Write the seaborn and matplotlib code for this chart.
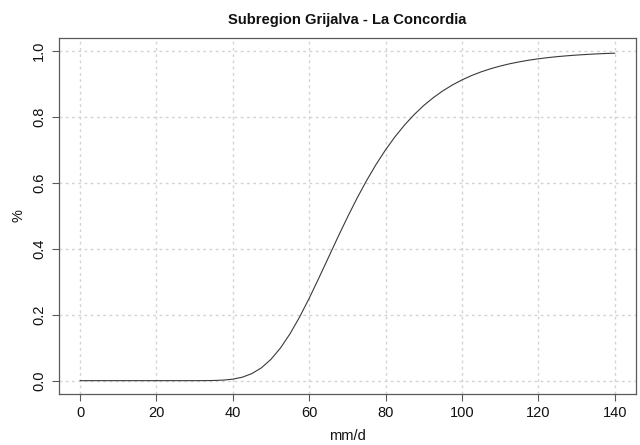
import matplotlib
matplotlib.use("Agg")
import matplotlib.pyplot as plt
import seaborn as sns
import pandas as pd

# Cumulative probability of daily rainfall (mm/d)
rain_mm = [0, 2.5, 5, 7.5, 10, 12.5, 15, 17.5, 20, 22.5, 25, 27.5, 30, 32.5,
           35, 37.5, 40, 42.5, 45, 47.5, 50, 52.5, 55, 57.5, 60, 62.5, 65, 67.5,
           70, 72.5, 75, 77.5, 80, 82.5, 85, 87.5, 90, 92.5, 95, 97.5, 100, 102.5,
           105, 107.5, 110, 112.5, 115, 117.5, 120, 122.5, 125, 127.5, 130, 132.5,
           135, 137.5, 140]
cum_prob = [0.0, 0.0, 0.0, 0.0, 0.0, 0.0, 0.0, 0.0, 0.0, 0.0, 0.0, 0.0, 0.0, 0.0001,
            0.0005, 0.0016, 0.0045, 0.0105, 0.0214, 0.0390, 0.0648, 0.0994, 0.1426,
            0.1934, 0.2500, 0.3106, 0.3729, 0.4352, 0.4956, 0.5532, 0.6068, 0.6561,
            0.7007, 0.7408, 0.7764, 0.8077, 0.8352, 0.8590, 0.8797, 0.8975, 0.9128,
            0.9260, 0.9372, 0.9467, 0.9548, 0.9618, 0.9676, 0.9727, 0.9769, 0.9805,
            0.9835, 0.9860, 0.9882, 0.9900, 0.9916, 0.9929, 0.9940]

x_ticks = [0, 20, 40, 60, 80, 100, 120, 140]
y_ticks = [0.0, 0.2, 0.4, 0.6, 0.8, 1.0]
y_tick_labels = ["0.0", "0.2", "0.4", "0.6", "0.8", "1.0"]

title = "Subregion Grijalva - La Concordia"
x_label = "mm/d"
y_label = "%"

sns.set_theme(style="white")
plt.rcParams["font.family"] = ["Liberation Sans", "DejaVu Sans"]

df = pd.DataFrame({"mm": rain_mm, "p": cum_prob})

fig = plt.figure(figsize=(6.4, 4.45), dpi=100)
ax = fig.add_axes([0.0916, 0.115, 0.9024, 0.7996])

box_col = "#5a5a5a"
grid_col = "#d3d3d3"

# dotted reference grid at the tick positions
for xv in x_ticks:
    ax.axvline(xv, color=grid_col, lw=1.0, ls=(0, (2, 2.5)), zorder=1)
for yv in y_ticks:
    ax.axhline(yv, color=grid_col, lw=1.0, ls=(0, (2, 2.5)), zorder=1)

sns.lineplot(data=df, x="mm", y="p", ax=ax, color="#3a3a3a", lw=0.8, zorder=3)

ax.set_xlim(-5.6, 145.6)
ax.set_ylim(-0.04, 1.04)
ax.set_xticks(x_ticks)
ax.set_xticklabels([str(v) for v in x_ticks], fontsize=10.5, color="#111111")
ax.set_yticks(y_ticks)
ax.set_yticklabels(y_tick_labels, fontsize=10.5, color="#111111",
                   rotation=90, va="center")
ax.tick_params(axis="both", direction="out", length=5, width=0.8,
               color=box_col, pad=4, left=True, bottom=True)

for sp in ax.spines.values():
    sp.set_color(box_col)
    sp.set_linewidth(0.9)
    sp.set_visible(True)

ax.set_xlabel(x_label, fontsize=10.5, color="#111111", labelpad=6)
ax.set_ylabel(y_label, fontsize=10.5, color="#111111", labelpad=5)
ax.set_title(title, fontsize=10.6, fontweight="bold", color="#111111", pad=10)

fig.savefig("out.png", dpi=100, facecolor="white")
